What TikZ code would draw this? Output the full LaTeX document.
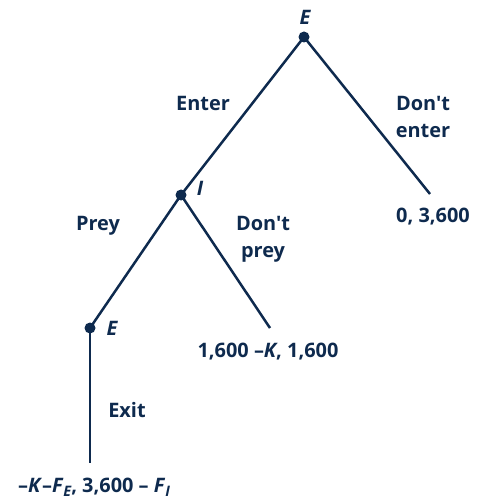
\documentclass[tikz,border=0pt]{standalone}
\usepackage{fontspec}
\setmainfont{Open Sans}[Ligatures=TeXOff]
\definecolor{navy}{HTML}{0E2A4E}
\newcommand{\subit}[1]{\raisebox{-0.35ex}{\fontsize{14.5}{14.5}\selectfont\itshape #1}}
\begin{document}
\begin{tikzpicture}[x=1bp,y=-1bp,
  dot/.style={circle,fill=navy,inner sep=0pt,minimum size=11bp},
  edge/.style={draw=navy,line width=2.5bp},
  lbl/.style={text=navy,font=\fontsize{20}{27}\selectfont\bfseries,align=center,inner sep=0pt},
  pl/.style={text=navy,font=\fontsize{20}{27}\selectfont\bfseries\itshape,inner sep=0pt}]
\useasboundingbox (0,0) rectangle (479,501);
\node[dot] (e1) at (304,37) {};
\node[dot] (i) at (181,195) {};
\node[dot] (e2) at (90,328) {};
\coordinate (de) at (430,194);
\coordinate (dp) at (270,328);
\coordinate (ex) at (90,463);
\draw[edge] (e1.center) -- (i.center);
\draw[edge] (e1.center) -- (de);
\draw[edge] (i.center) -- (e2.center);
\draw[edge] (i.center) -- (dp);
\draw[edge] (e2.center) -- (ex);
\node[pl] (le1) at (305,17) {E};
\node[pl] (li) at (200,188) {I};
\node[pl] (le2) at (112,328) {E};
\node[lbl] (tenter) at (203,103) {Enter};
\node[lbl] (tdenter) at (423,117) {Don't\\enter};
\node[lbl] (tprey) at (98,226) {Prey};
\node[lbl] (tdprey) at (263,239) {Don't\\prey};
\node[lbl] (texit) at (127,410) {Exit};
\node[lbl] (p1) at (433,217) {0, 3,600};
\node[lbl] (p2) at (268,352) {1,600 –\textit{K}, 1,600};
\node[lbl] (p3) at (94,487) {–\textit{K}–\textit{F}\subit{E}, 3,600 – \textit{F}\subit{I}};
\end{tikzpicture}
\end{document}
